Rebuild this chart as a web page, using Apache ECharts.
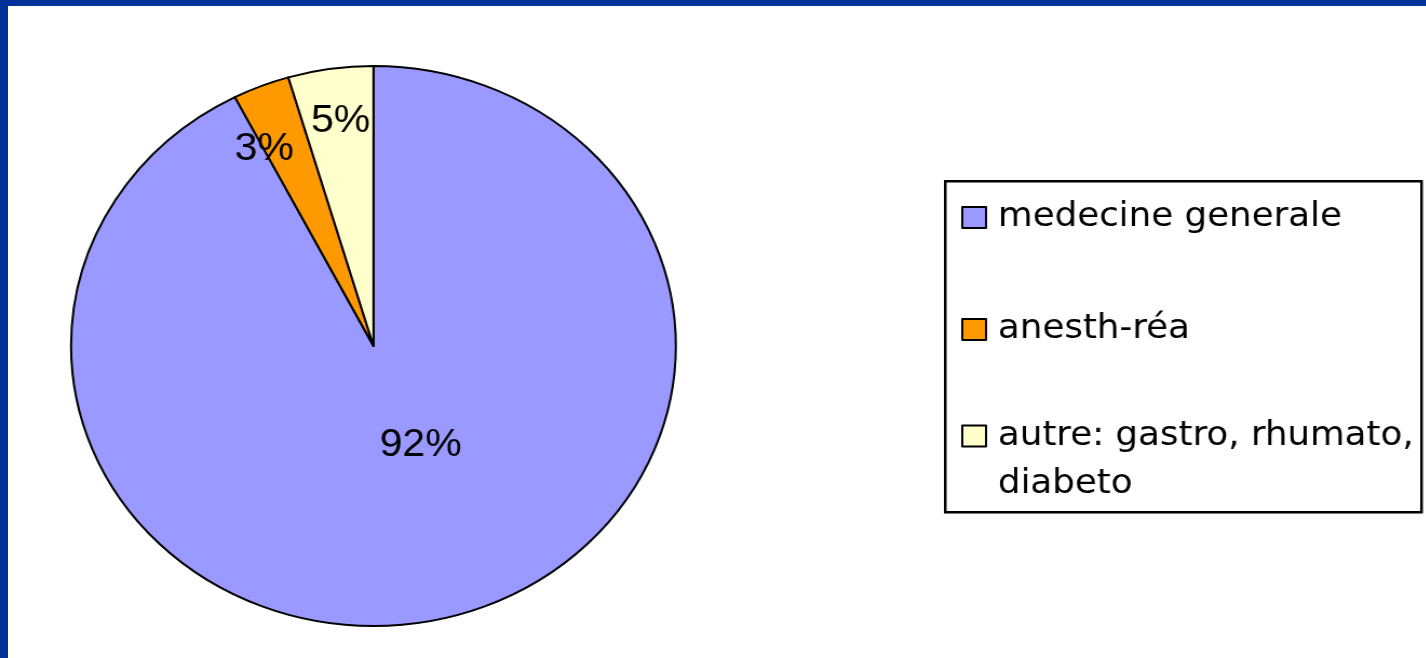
<!DOCTYPE html>
<html>
<head>
  <meta charset="utf-8">
  <title>Répartition des spécialités</title>
  <script src="https://cdn.jsdelivr.net/npm/echarts@6/dist/echarts.min.js"></script>
  <style>
    html, body { margin: 0; padding: 0; background: #fff; overflow: hidden; }
    #cadre {
      position: absolute; left: 0; top: 0;
      width: 1418px; height: 652px;
      border-top: 6px solid #003399;
      border-left: 8px solid #003399;
    }
    /* the original pie is a bit wider than tall, so the chart is stretched horizontally */
    #chart {
      position: absolute; left: 0; top: 0;
      width: 1320.4px; height: 658px;
      transform: scaleX(1.08);
      transform-origin: 0 0;
    }
  </style>
</head>
<body>
  <div id="cadre"></div>
  <div id="chart"></div>

  <script>
    // donnees du graphique (effectifs, affiches en %)
    const categories = ['medecine generale', 'anesth-réa', 'autre: gastro, rhumato, diabeto'];
    const counts = [61, 2, 3];
    const colors = ['#9999FF', '#FF9900', '#FFFFCC'];

    // petits decalages des etiquettes (style seulement)
    const labelNudge = [[10, -39], [-48, -64], [-10, -83]];

    const myChart = echarts.init(document.getElementById('chart'));

    const pieData = categories.map((name, i) => ({
      name: name,
      value: counts[i],
      itemStyle: { color: colors[i] }
    }));

    const legendFont = {
      fontFamily: 'DejaVu Sans',
      fontSize: 33,
      color: '#000'
    };

    function oneLegend(i, top, extra) {
      return {
        data: [categories[i]],
        left: 890,
        top: top,
        padding: 0,
        itemWidth: 22,
        itemHeight: 21,
        icon: 'rect',
        selectedMode: false,
        formatter: extra.formatter,
        textStyle: Object.assign({}, legendFont, extra.text)
      };
    }

    const option = {
      animation: false,
      backgroundColor: 'transparent',
      legend: [
        oneLegend(0, 201, { text: { lineHeight: 22, padding: [0, 0, 0, 6] } }),
        oneLegend(1, 313, { text: { lineHeight: 22, padding: [0, 0, 0, 6] } }),
        // empty first line so that the icon sits beside the first visible line
        oneLegend(2, 364, {
          text: { lineHeight: 48, padding: [0, 0, 0, 6] },
          formatter: name => '\n' + name.replace(', diabeto', ',\ndiabeto')
        })
      ],
      graphic: [
        {
          type: 'rect',
          left: 874,
          top: 180,
          shape: { width: 441, height: 331 },
          style: { fill: 'transparent', stroke: '#000', lineWidth: 2.5 },
          silent: true
        }
      ],
      series: [
        {
          type: 'pie',
          center: [345.8, 346],
          radius: 280,
          startAngle: 90,
          clockwise: true,
          avoidLabelOverlap: false,
          emphasis: { disabled: true },
          itemStyle: { borderColor: '#000', borderWidth: 2 },
          label: {
            position: 'inside',
            formatter: p => Math.round(p.percent) + '%',
            fontFamily: 'Liberation Sans',
            fontSize: 38,
            color: '#000'
          },
          labelLine: { show: false },
          labelLayout: p => ({ dx: labelNudge[p.dataIndex][0], dy: labelNudge[p.dataIndex][1] }),
          data: pieData
        }
      ]
    };

    myChart.setOption(option);
  </script>
</body>
</html>
